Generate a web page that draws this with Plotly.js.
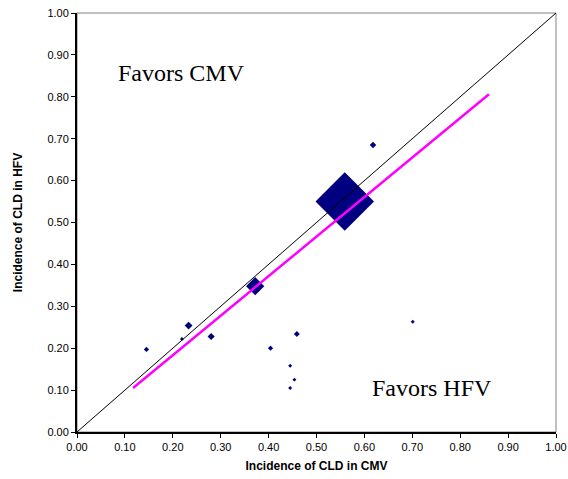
<!DOCTYPE html>
<html>
<head>
<meta charset="utf-8">
<script src="https://cdn.plot.ly/plotly-3.0.1.min.js"></script>
<style>html,body{margin:0;padding:0;background:#fff;}#chart{width:568px;height:479px;}</style>
</head>
<body>
<div id="chart"></div>
<script>
// Study points: incidence of CLD in CMV (x) vs HFV (y), marker size ~ study weight
const cmvIncidence = [0.145, 0.219, 0.233, 0.280, 0.404, 0.459, 0.445, 0.454, 0.445, 0.701, 0.618, 0.372, 0.559];
const hfvIncidence = [0.197, 0.222, 0.254, 0.228, 0.200, 0.234, 0.158, 0.125, 0.105, 0.263, 0.685, 0.348, 0.550];
const studyWeight  = [4, 3, 6, 5.5, 4, 4.5, 3, 3, 3, 3, 5, 14, 45];

// Regression line end points
const fitX = [0.117, 0.860];
const fitY = [0.105, 0.806];

// Line of equality
const eqX = [0, 1];
const eqY = [0, 1];

const tickVals = [0, 0.1, 0.2, 0.3, 0.4, 0.5, 0.6, 0.7, 0.8, 0.9, 1.0];
const tickText = ["0.00","0.10","0.20","0.30","0.40","0.50","0.60","0.70","0.80","0.90","1.00"];

const traces = [
  {x: cmvIncidence, y: hfvIncidence, mode: 'markers',
   marker: {symbol: 'diamond', size: studyWeight, color: '#000080', opacity: 1, line: {width: 0}}, showlegend: false},
  {x: eqX, y: eqY, mode: 'lines', line: {color: '#000000', width: 1}, hoverinfo: 'skip', showlegend: false},
  {x: fitX, y: fitY, mode: 'lines', line: {color: '#FF00FF', width: 2.5}, hoverinfo: 'skip', showlegend: false}
];

const axisCommon = {
  range: [0, 1], tickvals: tickVals, ticktext: tickText,
  ticks: 'outside', ticklen: 4, tickwidth: 1, tickcolor: '#000',
  showline: true, linecolor: '#000', linewidth: 2,
  showgrid: false, zeroline: false, fixedrange: true,
  tickfont: {family: 'Liberation Sans, Arial, sans-serif', size: 11, color: '#000'}
};

const layout = {
  width: 568, height: 479,
  margin: {l: 77, r: 12, t: 13, b: 47},
  paper_bgcolor: '#fff', plot_bgcolor: '#fff',
  xaxis: Object.assign({}, axisCommon, {
    title: {text: 'Incidence of CLD in CMV', standoff: 9,
      font: {family: 'Liberation Sans, Arial, sans-serif', size: 12, color: '#000', weight: 'bold'}}
  }),
  yaxis: Object.assign({}, axisCommon, {
    title: {text: 'Incidence of CLD in HFV', standoff: 22,
      font: {family: 'Liberation Sans, Arial, sans-serif', size: 12, color: '#000', weight: 'bold'}}
  }),
  shapes: [{type: 'rect', xref: 'paper', yref: 'paper', x0: 0, x1: 1, y0: 0, y1: 1,
    line: {color: '#808080', width: 1}, layer: 'below'}],
  annotations: [
    {x: 0.219, y: 0.857, xref: 'x', yref: 'y', text: 'Favors CMV', showarrow: false,
     font: {family: 'Liberation Serif, Times New Roman, serif', size: 24, color: '#000'}},
    {x: 0.741, y: 0.105, xref: 'x', yref: 'y', text: 'Favors HFV', showarrow: false,
     font: {family: 'Liberation Serif, Times New Roman, serif', size: 24, color: '#000'}}
  ]
};

Plotly.newPlot('chart', traces, layout, {displayModeBar: false, staticPlot: true});
</script>
</body>
</html>
